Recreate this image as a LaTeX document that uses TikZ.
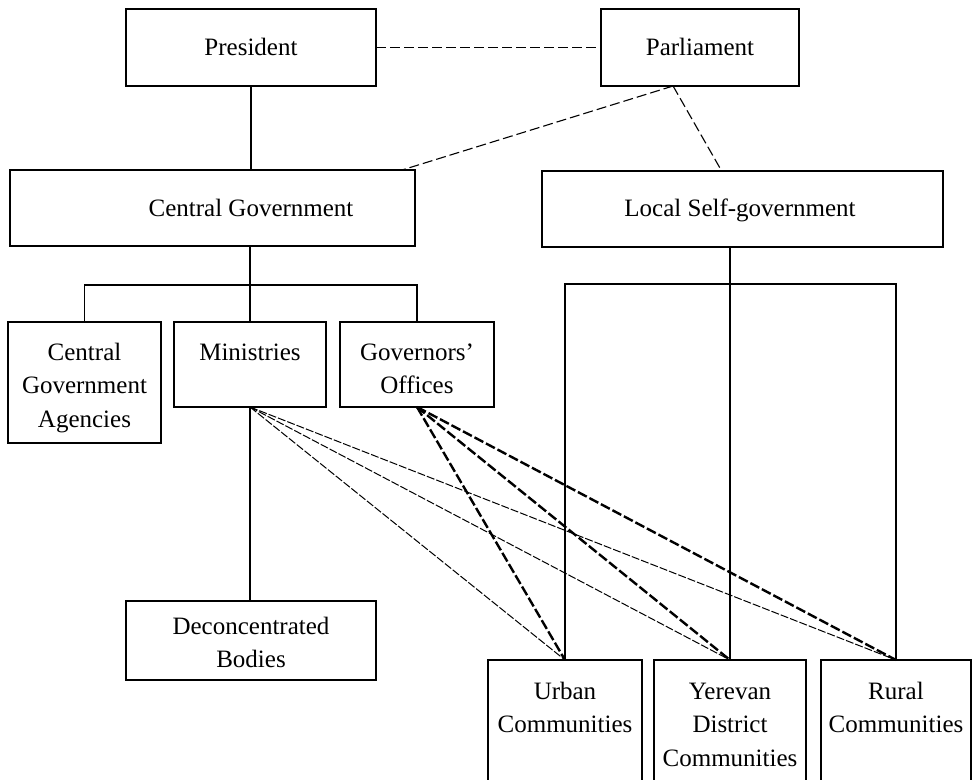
\documentclass[tikz,border=0pt]{standalone}
\usepackage{fontspec}
\setmainfont{Liberation Serif}
\usetikzlibrary{calc}
\newcommand{\stack}[1]{\begin{tabular}[t]{@{}c@{}}#1\end{tabular}}
\tikzset{
  box/.style={draw, line width=1.6pt, inner sep=0pt, outer sep=0pt},
  lbl/.style={inner sep=0pt, anchor=base, font=\fontsize{25}{33.5}\selectfont},
  tree/.style={line width=1.6pt},
  parlink/.style={line width=1.1pt, dash pattern=on 10pt off 4pt},
  minlink/.style={line width=1pt, dash pattern=on 8pt off 2pt},
  govlink/.style={line width=2.4pt, dash pattern=on 10pt off 3pt},
}
% a box given by its corners (x1,y1) (x2,y2)
\newcommand{\boxat}[5]{\node[box, minimum width={#4-#2}, minimum height={#5-#3}] (#1) at ({(#2+#4)/2},{(#3+#5)/2}) {};}
\begin{document}
\begin{tikzpicture}[x=1pt, y=-1pt]
\useasboundingbox (0,0) rectangle (973,779);
\clip (0,0) rectangle (973,779);

% boxes
\boxat{pres}{126}{9}{376}{86}
\boxat{parl}{601}{9}{799}{86}
\boxat{cg}{10}{170}{415}{246}
\boxat{lsg}{542}{171}{943}{247}
\boxat{cga}{8}{322}{161}{443}
\boxat{min}{174}{322}{326}{407}
\boxat{gov}{340}{322}{494}{407}
\boxat{dec}{126}{601}{376}{680}
\boxat{urb}{488}{660}{642}{800}
\boxat{yer}{654}{660}{806}{800}
\boxat{rur}{821}{660}{971}{800}

% labels
\node[lbl] (pres-t) at (251,55) {President};
\node[lbl] (parl-t) at (700,55) {Parliament};
\node[lbl] (cg-t) at (251,216) {Central Government};
\node[lbl] (lsg-t) at (740,216) {Local Self-government};
\node[lbl] (cga-t) at (84.5,360) {\stack{Central\\Government\\Agencies}};
\node[lbl] (min-t) at (250,360) {Ministries};
\node[lbl] (gov-t) at (417,360) {\stack{Governors'\\Offices}};
\node[lbl] (dec-t) at (251,634) {\stack{Deconcentrated\\Bodies}};
\node[lbl] (urb-t) at (565,699) {\stack{Urban\\Communities}};
\node[lbl] (yer-t) at (730,699) {\stack{Yerevan\\District\\Communities}};
\node[lbl] (rur-t) at (896,699) {\stack{Rural\\Communities}};

% junction points
\coordinate (pj) at ($(parl.south west)!0.364!(parl.south east)$);
\coordinate (cgj) at ($(cg.north west)!0.968!(cg.north east)$);
\coordinate (lsgj) at ($(lsg.north west)!0.448!(lsg.north east)$);
\coordinate (cgsplit) at (250,285);
\coordinate (lsgsplit) at (730,284);

% solid hierarchy
\draw[tree] (pres.south) -- (pres.south |- cg.north);
\draw[tree] (cg.south -| min.south) -- (cgsplit);
\draw[tree] (cga.north) -- (cga.north |- cgsplit) -- (gov.north |- cgsplit) -- (gov.north);
\draw[tree] (cgsplit) -- (min.north);
\draw[tree] (min.south) -- (dec.north -| min.south);
\draw[tree] (yer.north) -- (yer.north |- lsg.south);
\draw[tree] (urb.north) -- (urb.north |- lsgsplit) -- (rur.north |- lsgsplit) -- (rur.north);

% dashed relations
\draw[parlink] (pres.east) -- (parl.west);
\draw[parlink] (pj) -- (cgj);
\draw[parlink] (pj) -- (lsgj);
\foreach \t in {urb,yer,rur} {
  \draw[minlink] (min.south) -- (\t.north);
  \draw[govlink] (gov.south) -- (\t.north);
}
\end{tikzpicture}
\end{document}
